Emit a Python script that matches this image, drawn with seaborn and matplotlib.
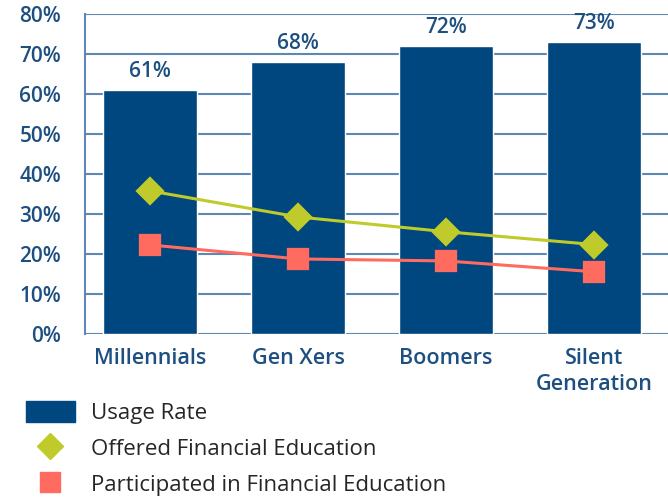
import matplotlib
matplotlib.use('Agg')
import matplotlib.pyplot as plt
import pandas as pd
import seaborn as sns
from matplotlib.lines import Line2D
from matplotlib.patches import Patch

# data
generations = ['Millennials', 'Gen Xers', 'Boomers', 'Silent\nGeneration']
usage_rate = [61, 68, 72, 73]
offered_edu = [35.8, 29.3, 25.6, 22.4]
participated_edu = [22.3, 18.8, 18.3, 15.6]

NAVY = '#00467f'
LIME = '#bfca2b'
SALMON = '#ff6b5f'
GRID = '#5d87b5'
TEXT = '#1d4f80'

sns.set_style('white')
plt.rcParams['font.family'] = ['Open Sans', 'DejaVu Sans']

df = pd.DataFrame({
    'generation': generations,
    'usage': usage_rate,
    'offered': offered_edu,
    'participated': participated_edu,
})

fig = plt.figure(figsize=(6.68, 5.01), dpi=100)
ax = fig.add_axes([0.127, 0.333, 0.873, 0.639])

ax.set_axisbelow(True)
ax.grid(axis='y', color=GRID, linewidth=1.5)

sns.barplot(data=df, x='generation', y='usage', color=NAVY, width=0.64,
            saturation=1, ax=ax, zorder=2)
sns.pointplot(data=df, x='generation', y='offered', color=LIME, markers='D',
              markersize=13, linewidth=2.2, ax=ax, zorder=3)
sns.pointplot(data=df, x='generation', y='participated', color=SALMON,
              markers='s', markersize=14, linewidth=2.2, ax=ax, zorder=3)

# value labels above bars
for i, v in enumerate(usage_rate):
    ax.text(i, v + 2.0, f'{v}%', ha='center', va='bottom', fontsize=15,
            fontweight='semibold', color=TEXT)

ax.set_ylim(0, 80)
ax.set_xlim(-0.44, 3.5)
ax.set_yticks(range(0, 81, 10))
ax.set_yticklabels([f'{t}%' for t in range(0, 81, 10)])
ax.set_xlabel('')
ax.set_ylabel('')

for side in ['top', 'right', 'bottom']:
    ax.spines[side].set_visible(False)
ax.spines['left'].set_color(GRID)
ax.spines['left'].set_linewidth(1.5)

ax.tick_params(axis='y', length=11, width=1.5, color=GRID, pad=6,
               labelsize=15, labelcolor=TEXT)
ax.tick_params(axis='x', length=0, pad=10, labelsize=15.5, labelcolor=TEXT)
for lab in ax.get_yticklabels() + ax.get_xticklabels():
    lab.set_fontweight('semibold')
for lab in ax.get_xticklabels():
    lab.set_linespacing(1.3)

handles = [
    Patch(facecolor=NAVY, edgecolor=NAVY, label='Usage Rate'),
    Line2D([], [], color=LIME, marker='D', linestyle='none', markersize=13,
           label='Offered Financial Education'),
    Line2D([], [], color=SALMON, marker='s', linestyle='none', markersize=14,
           label='Participated in Financial Education'),
]
fig.legend(handles=handles, loc='upper left', bbox_to_anchor=(0.022, 0.222),
           frameon=False, fontsize=16, handlelength=2.2, handleheight=1.05,
           labelspacing=0.6, handletextpad=0.75, borderpad=0)

plt.savefig('out.png', dpi=100)
